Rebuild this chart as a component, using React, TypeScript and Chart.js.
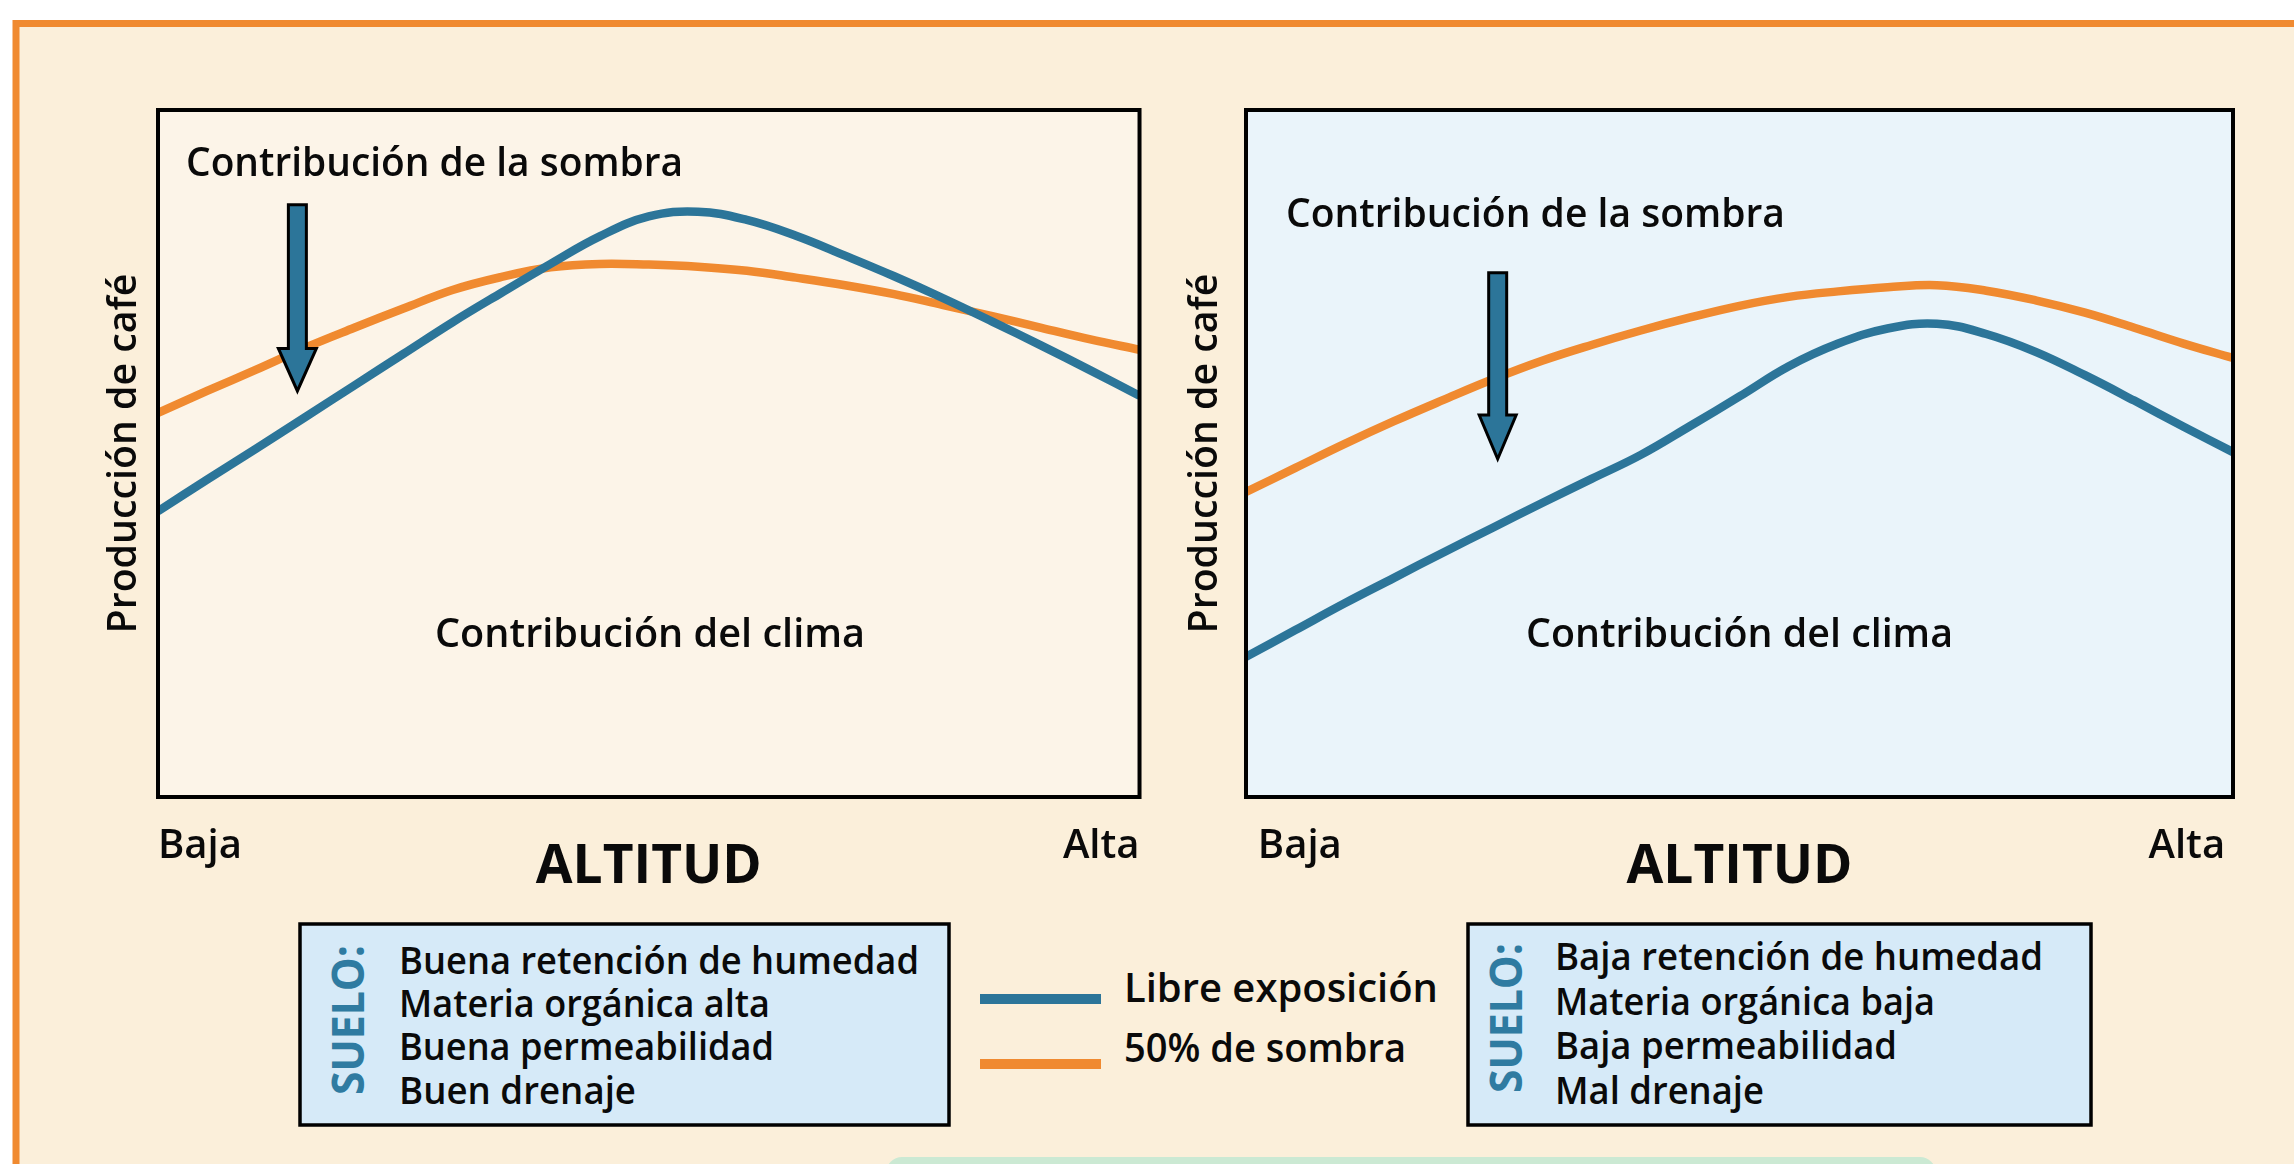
import React, { useEffect, useRef } from "react";
import { Chart, registerables } from "chart.js";

Chart.register(...registerables);

const FONT = "'Open Sans', 'DejaVu Sans', sans-serif";
const BLUE = "#2C7599";
const ORANGE = "#F08A30";
const INK = "#0A0A0A";
const MID = 0.388; // canvas 'middle' baseline offset (em) for Open Sans

// ---------------- data ----------------
const seriesNames = ["Libre exposición", "50% de sombra"];
const xTickLabels = ["Baja", "Alta"];
const xTickValuesLeft = [0, 100];
const xTickValuesRight = [1.2, 99.2];
const xAxisTitle = "ALTITUD";
const yAxisTitle = "Producción de café";
const shadeNote = "Contribución de la sombra";
const climateNote = "Contribución del clima";

// relative altitude (0 = Baja, 100 = Alta)
const altitude = [0, 5, 10, 15, 20, 25, 30, 35, 40, 45, 50, 55, 60, 65, 70, 75, 80, 85, 90, 95, 100];

// left panel (good soil)
const leftLibre = [41.6, 46.2, 50.7, 55.3, 59.9, 64.5, 69.1, 73.4, 77.6, 81.6, 84.5, 85.2, 84.0, 81.7, 78.8, 75.8, 72.6, 69.2, 65.7, 62.1, 58.4];
const leftSombra = [55.9, 59.1, 62.2, 65.4, 68.3, 71.1, 73.8, 75.7, 77.1, 77.6, 77.5, 77.2, 76.6, 75.6, 74.5, 73.2, 71.6, 70.0, 68.3, 66.6, 65.1];

// right panel (poor soil)
const rightLibre = [20.4, 24.3, 28.2, 31.9, 35.6, 39.2, 42.8, 46.3, 49.8, 54.0, 58.3, 62.7, 66.0, 68.2, 68.9, 67.4, 64.8, 61.4, 57.7, 53.9, 50.2];
const rightSombra = [44.4, 47.9, 51.4, 54.7, 57.8, 60.8, 63.5, 65.8, 67.9, 69.8, 71.5, 72.8, 73.6, 74.2, 74.5, 73.7, 72.3, 70.5, 68.3, 66.0, 63.9];

const soilLabel = "SUELO:";
const soilGood = ["Buena retención de humedad", "Materia orgánica alta", "Buena permeabilidad", "Buen drenaje"];
const soilPoor = ["Baja retención de humedad", "Materia orgánica baja", "Baja permeabilidad", "Mal drenaje"];

// ---------------- helpers ----------------
let mctx: CanvasRenderingContext2D | null = null;
function textWidth(text: string, font: string): number {
  if (!mctx) mctx = document.createElement("canvas").getContext("2d");
  mctx!.font = font;
  return mctx!.measureText(text).width;
}
function fitSize(text: string, weight: number, target: number): number {
  return (100 * target) / textWidth(text, `${weight} 100px ${FONT}`);
}
function drawFitted(ctx: CanvasRenderingContext2D, text: string, x: number, baseline: number, width: number, size: number, weight = 600) {
  ctx.save();
  ctx.font = `${weight} ${size}px ${FONT}`;
  const w = ctx.measureText(text).width;
  ctx.translate(x, baseline);
  ctx.scale(width / w, 1);
  ctx.textAlign = "left";
  ctx.textBaseline = "alphabetic";
  ctx.fillStyle = INK;
  ctx.fillText(text, 0, 0);
  ctx.restore();
}

type Note = { text: string; dx: number; dy: number; width: number; size: number };
type Arrow = { x: number; yTop: number; yHead: number; yTip: number; shaftHalf: number; headHalf: number };
type PanelProps = {
  left: number; top: number; width: number; height: number;
  pad: { left: number; top: number; right: number; bottom: number };
  yAxisWidth: number; xAxisHeight: number;
  yTitleBaseline: number; tickBaseline: number; xTitleBaseline: number;
  plotBg: string;
  tickValues: number[];
  libre: number[]; sombra: number[];
  arrow: Arrow; notes: Note[];
};

function Panel(p: PanelProps) {
  const ref = useRef<HTMLCanvasElement>(null);
  useEffect(() => {
    const canvas = ref.current!;
    const ySize = fitSize(yAxisTitle, 600, 360);
    const xTitleSize = fitSize(xAxisTitle, 700, 226);
    const tickSize = 40;
    const chartBottomRel = p.height - p.pad.bottom - p.xAxisHeight;
    const tickPad = (p.tickBaseline - p.top) - MID * tickSize - tickSize / 2 - chartBottomRel;
    const xTitlePadBottom = (p.height - p.pad.bottom) - xTitleSize / 2 - ((p.xTitleBaseline - p.top) - MID * xTitleSize);
    const yTitlePadTop = (p.yTitleBaseline - p.left) - MID * ySize - ySize / 2 - p.pad.left;

    const decor = {
      id: "panelDecor",
      beforeDraw(chart: any) {
        const { ctx, chartArea: a } = chart;
        ctx.save();
        ctx.fillStyle = p.plotBg;
        ctx.fillRect(a.left, a.top, a.right - a.left, a.bottom - a.top);
        ctx.restore();
      },
      afterDatasetsDraw(chart: any) {
        const { ctx, chartArea: a, scales } = chart;
        const xs = scales.x, ys = scales.y;
        const ar = p.arrow;
        const cx = xs.getPixelForValue(ar.x);
        const top = ys.getPixelForValue(ar.yTop);
        const head = ys.getPixelForValue(ar.yHead);
        const tip = ys.getPixelForValue(ar.yTip);
        ctx.save();
        ctx.beginPath();
        ctx.moveTo(cx - ar.shaftHalf, top);
        ctx.lineTo(cx + ar.shaftHalf, top);
        ctx.lineTo(cx + ar.shaftHalf, head);
        ctx.lineTo(cx + ar.headHalf, head);
        ctx.lineTo(cx, tip);
        ctx.lineTo(cx - ar.headHalf, head);
        ctx.lineTo(cx - ar.shaftHalf, head);
        ctx.closePath();
        ctx.fillStyle = BLUE;
        ctx.fill();
        ctx.lineWidth = 3;
        ctx.lineJoin = "miter";
        ctx.miterLimit = 10;
        ctx.strokeStyle = "#000";
        ctx.stroke();
        ctx.restore();
        for (const n of p.notes) drawFitted(ctx, n.text, a.left + n.dx, a.top + n.dy, n.width, n.size);
      },
      afterDraw(chart: any) {
        const { ctx, chartArea: a } = chart;
        ctx.save();
        ctx.lineWidth = 4;
        ctx.strokeStyle = "#000";
        ctx.strokeRect(a.left, a.top, a.right - a.left, a.bottom - a.top);
        ctx.restore();
      },
    };

    const chart = new Chart(canvas, {
      type: "line",
      data: {
        datasets: [
          {
            label: seriesNames[0],
            data: altitude.map((x, i) => ({ x, y: p.libre[i] })),
            borderColor: BLUE,
            borderWidth: 8.5,
            pointRadius: 0,
            tension: 0.4,
            fill: false,
          },
          {
            label: seriesNames[1],
            data: altitude.map((x, i) => ({ x, y: p.sombra[i] })),
            borderColor: ORANGE,
            borderWidth: 8.5,
            pointRadius: 0,
            tension: 0.4,
            fill: false,
          },
        ],
      },
      options: {
        responsive: false,
        animation: false,
        layout: { padding: p.pad },
        plugins: { legend: { display: false }, tooltip: { enabled: false } },
        scales: {
          x: {
            type: "linear",
            min: 0,
            max: 100,
            grid: { display: false, drawTicks: false },
            border: { display: false },
            afterBuildTicks: (s: any) => {
              s.ticks = p.tickValues.map((v) => ({ value: v }));
            },
            afterFit: (s: any) => {
              s.height = p.xAxisHeight;
            },
            ticks: {
              display: true,
              align: "inner",
              autoSkip: false,
              maxRotation: 0,
              minRotation: 0,
              padding: tickPad,
              color: INK,
              font: { family: FONT, size: tickSize, weight: "600", lineHeight: 1 },
              callback: (_v: any, i: number) => xTickLabels[i],
            },
            title: {
              display: true,
              text: xAxisTitle,
              color: INK,
              font: { family: FONT, size: xTitleSize, weight: "700", lineHeight: 1 },
              padding: { top: 0, bottom: xTitlePadBottom },
            },
          },
          y: {
            type: "linear",
            min: 0,
            max: 100,
            grid: { display: false, drawTicks: false },
            border: { display: false },
            afterFit: (s: any) => {
              s.width = p.yAxisWidth;
            },
            ticks: { display: false },
            title: {
              display: true,
              text: yAxisTitle,
              color: INK,
              font: { family: FONT, size: ySize, weight: "600", lineHeight: 1 },
              padding: { top: yTitlePadTop, bottom: 0 },
            },
          },
        },
      } as any,
      plugins: [decor],
    } as any);
    return () => chart.destroy();
  }, []);
  return (
    <div style={{ position: "absolute", left: p.left, top: p.top, width: p.width, height: p.height }}>
      <canvas ref={ref} width={p.width} height={p.height} style={{ display: "block" }} />
    </div>
  );
}

function SoilBox(props: { x: number; y: number; w: number; h: number; labelX: number; labelBottom: number; textX: number; baselines: number[]; widths: number[]; lines: string[] }) {
  const { x, y, w, h, labelX, labelBottom, textX, baselines, widths, lines } = props;
  return (
    <g>
      <rect x={x} y={y} width={w} height={h} fill="#D6EAF8" stroke="#000" strokeWidth={3.5} />
      <text
        transform={`translate(${labelX},${labelBottom}) rotate(-90)`}
        x={0}
        y={0}
        fontFamily={FONT}
        fontWeight={700}
        fontSize={44}
        fill="#2F7BA1"
        textLength={150}
        lengthAdjust="spacingAndGlyphs"
      >
        {soilLabel}
      </text>
      {lines.map((t, i) => (
        <text key={i} x={textX} y={baselines[i]} fontFamily={FONT} fontWeight={600} fontSize={37} fill={INK} textLength={widths[i]} lengthAdjust="spacingAndGlyphs">
          {t}
        </text>
      ))}
    </g>
  );
}

export default function App() {
  const leftPanel: PanelProps = {
    left: 60, top: 100, width: 1109, height: 820,
    pad: { left: 0, top: 10, right: 27, bottom: 0 },
    yAxisWidth: 98, xAxisHeight: 123,
    yTitleBaseline: 140, tickBaseline: 862, xTitleBaseline: 889,
    plotBg: "#FCF4E8",
    tickValues: xTickValuesLeft,
    libre: leftLibre, sombra: leftSombra,
    arrow: { x: 14.2, yTop: 86.2, yHead: 65.3, yTip: 59.1, shaftHalf: 9, headHalf: 19 },
    notes: [
      { text: shadeNote, dx: 28, dy: 66, width: 497, size: 40 },
      { text: climateNote, dx: 277, dy: 537, width: 430, size: 40 },
    ],
  };
  const rightPanel: PanelProps = {
    left: 1160, top: 100, width: 1100, height: 820,
    pad: { left: 0, top: 10, right: 27, bottom: 0 },
    yAxisWidth: 86, xAxisHeight: 123,
    yTitleBaseline: 1221, tickBaseline: 862, xTitleBaseline: 889,
    plotBg: "#EAF4FA",
    tickValues: xTickValuesRight,
    libre: rightLibre, sombra: rightSombra,
    arrow: { x: 25.5, yTop: 76.3, yHead: 55.6, yTip: 49.2, shaftHalf: 9, headHalf: 18.5 },
    notes: [
      { text: shadeNote, dx: 40, dy: 117, width: 499, size: 40 },
      { text: climateNote, dx: 280, dy: 537, width: 427, size: 40 },
    ],
  };

  return (
    <div style={{ position: "absolute", left: 0, top: 0, width: 2294, height: 1164, overflow: "hidden", background: "#fff" }}>
      <svg width={2294} height={1164} style={{ position: "absolute", left: 0, top: 0 }}>
        <rect x={0} y={0} width={2294} height={1164} fill="#fff" />
        <rect x={16} y={23.5} width={2400} height={1300} fill="#FBEFDA" stroke={ORANGE} strokeWidth={7} />
        <rect x={886} y={1157} width={1050} height={40} rx={16} fill="#CBE9D3" />
        <SoilBox x={300} y={924} w={649} h={201} labelX={364} labelBottom={1095} textX={399}
          baselines={[974, 1017, 1060, 1104]} widths={[520, 371, 375, 237]} lines={soilGood} />
        <SoilBox x={1468} y={924} w={623} h={201} labelX={1522} labelBottom={1093} textX={1555}
          baselines={[970, 1015, 1059, 1104]} widths={[488, 380, 342, 209]} lines={soilPoor} />
        <rect x={980} y={994} width={121} height={10} fill={BLUE} />
        <rect x={980} y={1059} width={121} height={10} fill={ORANGE} />
        <text x={1124} y={1002} fontFamily={FONT} fontWeight={600} fontSize={40} fill={INK} textLength={314} lengthAdjust="spacingAndGlyphs">{seriesNames[0]}</text>
        <text x={1124} y={1062} fontFamily={FONT} fontWeight={600} fontSize={40} fill={INK} textLength={282} lengthAdjust="spacingAndGlyphs">{seriesNames[1]}</text>
      </svg>
      <Panel {...leftPanel} />
      <Panel {...rightPanel} />
    </div>
  );
}
